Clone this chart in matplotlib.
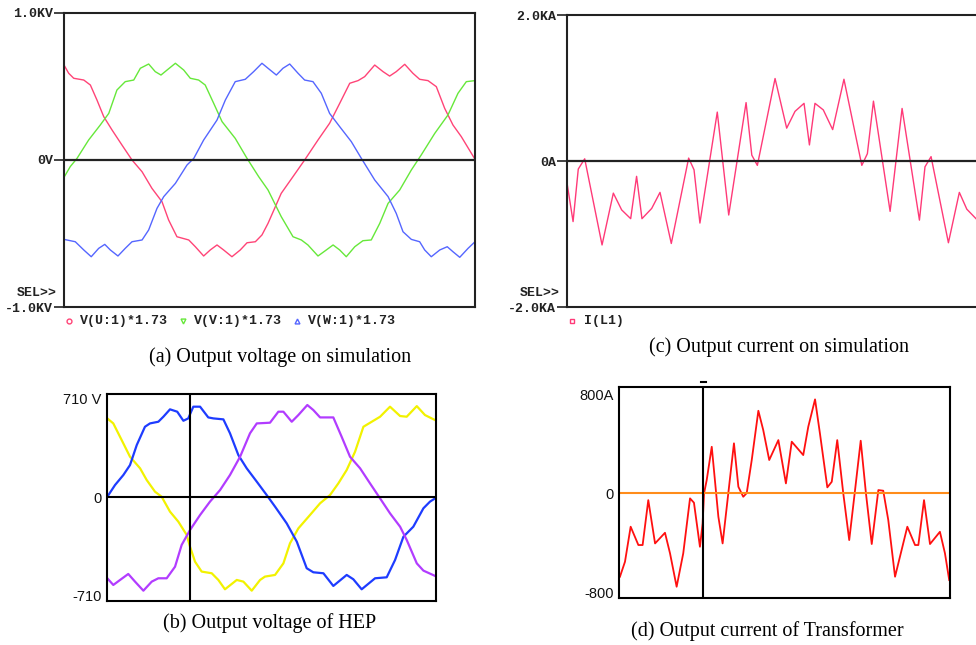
import numpy as np
import matplotlib
matplotlib.use("Agg")
import matplotlib.pyplot as plt
from matplotlib.lines import Line2D

# ------------------------------- DATA ---------------------------------------
# (a) simulated line voltages, time in ms, volts
t_u = [0.0, 0.27, 0.56, 1.14, 1.52, 1.90, 2.29, 2.77, 3.34, 3.92, 4.50, 5.07, 5.65,
       6.03, 6.51, 7.19, 7.57, 8.05, 8.43, 8.82, 9.20, 9.68, 10.16, 10.55, 11.03,
       11.41, 11.76, 12.52, 13.20, 13.87, 14.64, 15.31, 15.89, 16.47, 16.95, 17.33,
       17.91, 18.39, 18.77, 19.15, 19.64, 20.11, 20.50, 20.98, 21.46, 21.94, 22.42,
       22.90, 23.69]
v_u = [646, 590, 556, 544, 510, 408, 295, 204, 102, 0, -80, -193, -284,
       -408, -522, -544, -590, -653, -612, -578, -612, -658, -612, -563, -556,
       -510, -431, -227, -113, 0, 136, 250, 385, 522, 540, 567,
       646, 601, 571, 601, 651, 590, 549, 540, 499, 352, 238,
       159, 5]

t_v = [0.0, 0.36, 0.75, 1.42, 2.09, 2.58, 3.05, 3.53, 4.02, 4.40, 4.88, 5.26, 5.59,
       5.94, 6.42, 6.90, 7.28, 7.76, 8.14, 8.63, 9.11, 9.87, 10.55, 11.22, 11.76,
       12.52, 13.20, 13.68, 14.06, 14.64, 15.12, 15.51, 15.89, 16.27, 16.76, 17.23,
       17.71, 18.20, 18.68, 19.35, 20.02, 20.59, 21.37, 22.13, 22.71, 23.19, 23.69]
v_v = [-118, -45, 11, 136, 238, 317, 476, 533, 544, 624, 653, 601, 578,
       612, 658, 612, 556, 544, 510, 385, 261, 147, 11, -113, -204,
       -385, -522, -544, -578, -653, -612, -578, -612, -658, -590, -549,
       -544, -431, -295, -204, -68, 34, 181, 306, 454, 533, 540]

t_w = [0.0, 0.65, 1.14, 1.57, 2.00, 2.35, 2.67, 3.11, 3.53, 3.92, 4.50, 4.88, 5.36,
       5.75, 6.42, 7.09, 7.48, 8.05, 8.82, 9.30, 9.87, 10.45, 10.93, 11.41, 11.76,
       12.24, 12.62, 13.01, 13.49, 13.87, 14.35, 14.83, 15.31, 15.89, 16.56, 17.14,
       17.91, 18.68, 19.15, 19.54, 20.02, 20.50, 20.79, 21.17, 21.66, 22.09, 22.42,
       22.81, 23.29, 23.69]
v_w = [-540, -556, -612, -658, -601, -574, -612, -653, -601, -556, -544, -476, -329,
       -249, -159, -34, 11, 136, 272, 408, 533, 549, 601, 658, 624,
       578, 624, 653, 590, 544, 533, 454, 317, 227, 125, 11,
       -136, -249, -363, -488, -540, -556, -612, -658, -612, -590, -624,
       -662, -601, -556]

# (c) simulated output current, ms, kA
t_i = [0.02, 0.35, 0.65, 1.02, 2.02, 2.67, 3.15, 3.67, 4.01, 4.32, 4.88, 5.36, 6.01,
       7.01, 7.32, 7.66, 8.66, 9.32, 10.32, 10.65, 10.97, 11.99, 12.66, 13.14, 13.66,
       13.97, 14.29, 14.77, 15.31, 15.96, 16.99, 17.31, 17.66, 18.62, 19.31, 20.31,
       20.63, 20.98, 21.98, 22.61, 23.04, 23.57]
i_l1 = [-0.33, -0.83, -0.11, 0.03, -1.15, -0.44, -0.67, -0.79, -0.21, -0.79, -0.65, -0.43, -1.13,
        0.04, -0.12, -0.85, 0.67, -0.74, 0.80, 0.08, -0.06, 1.13, 0.45, 0.68, 0.79,
        0.22, 0.79, 0.70, 0.43, 1.12, -0.06, 0.10, 0.82, -0.69, 0.72, -0.81,
        -0.08, 0.06, -1.12, -0.43, -0.66, -0.79]

# (b) measured HEP voltages, ms, volts
t_yel = [0.02, 0.40, 0.93, 1.46, 2.10, 2.52, 3.05, 3.47, 4.00, 4.53, 5.06, 5.27, 5.59,
         6.01, 6.65, 7.07, 7.49, 8.24, 8.66, 9.19, 9.72, 10.03, 10.67, 11.20, 11.62,
         12.15, 12.89, 13.53, 14.16, 14.69, 15.22, 15.75, 16.28, 16.81, 17.34, 17.97,
         18.61, 19.03, 19.67, 20.19, 20.83]
v_yel = [564, 528, 409, 289, 206, 122, 38, 2, -105, -177, -272, -356, -464,
         -535, -547, -595, -662, -595, -607, -672, -595, -571, -559, -476, -332,
         -225, -129, -45, 14, 98, 194, 325, 504, 540, 576, 648,
         581, 576, 652, 588, 552]

t_blu = [0.02, 0.51, 1.04, 1.46, 1.89, 2.41, 2.73, 3.26, 3.58, 4.00, 4.46, 4.85, 5.16,
         5.48, 5.91, 6.43, 6.75, 7.39, 7.81, 8.34, 8.87, 9.51, 10.14, 10.67, 11.41,
         12.05, 12.68, 13.10, 13.74, 14.37, 15.22, 15.64, 16.17, 17.02, 17.76, 18.29,
         18.82, 19.45, 20.09, 20.51, 20.83]
v_blu = [2, 86, 158, 229, 373, 504, 528, 540, 576, 629, 612, 547, 564,
         648, 648, 571, 564, 557, 457, 301, 206, 110, 14, -69, -189,
         -320, -511, -540, -547, -638, -559, -590, -662, -583, -576, -452,
         -285, -213, -81, -33, -10]

t_pur = [0.02, 0.40, 0.83, 1.35, 1.78, 2.31, 2.84, 3.26, 3.79, 4.32, 4.74, 5.27, 5.91,
         6.54, 7.18, 7.81, 8.45, 9.08, 9.51, 10.35, 10.88, 11.20, 11.73, 12.15, 12.72,
         13.10, 13.53, 14.37, 14.90, 15.43, 16.07, 16.70, 17.34, 17.97, 18.61, 19.03,
         19.67, 20.09, 20.83]
v_pur = [-583, -631, -595, -552, -607, -672, -607, -583, -583, -500, -344, -237, -129,
         -33, 50, 158, 289, 457, 528, 533, 612, 612, 540, 588, 660,
         624, 571, 571, 432, 289, 206, 98, -10, -117, -213, -308,
         -476, -528, -566]

# (d) measured transformer current, ms, A
t_tr = [0.06, 0.38, 0.74, 1.23, 1.50, 1.86, 2.29, 2.92, 3.24, 3.66, 4.08, 4.51, 4.76,
        5.14, 5.31, 5.40, 5.57, 5.89, 6.31, 6.58, 6.94, 7.30, 7.58, 7.89, 8.11,
        8.43, 8.85, 9.16, 9.54, 10.12, 10.60, 10.97, 11.70, 12.02, 12.45, 12.76,
        13.23, 13.51, 13.86, 14.24, 14.62, 14.99, 15.35, 15.68, 16.05, 16.47, 16.78,
        17.10, 17.53, 18.31, 18.80, 19.01, 19.37, 19.75, 20.38, 20.70, 20.97]
i_tr = [-676, -555, -272, -420, -420, -57, -407, -321, -487, -757, -487, -43, -78,
        -434, -245, -3, 105, 374, -191, -407, -3, 402, 51, -30, 0,
        267, 665, 509, 267, 428, 78, 415, 307, 536, 757, 482,
        46, 91, 428, 0, -380, 24, 423, 0, -412, 24, 19,
        -218, -676, -272, -420, -420, -57, -412, -313, -487, -703]

cursor_b = 5.27
cursor_d = 5.33

# ------------------------------- LAYOUT -------------------------------------
W, H = 976, 645


def box(left, top, right, bottom):
    return [left / W, 1 - bottom / H, (right - left) / W, (bottom - top) / H]


def fxy(x, y):
    return x / W, 1 - y / H


mono = dict(family="Liberation Mono", weight="bold", size=9.5, color="#222222")
sans = dict(family="Liberation Sans", size=10.5, color="#111111")
serif = dict(family="Liberation Serif", size=14.5, color="black")

fig = plt.figure(figsize=(W / 100, H / 100), dpi=100)

# --- (a) Output voltage on simulation ---
ax_a = fig.add_axes(box(64, 13, 475, 307))
ax_a.plot(t_u, v_u, color="#FF4477", lw=1.0)
ax_a.plot(t_v, v_v, color="#66E83A", lw=1.0)
ax_a.plot(t_w, v_w, color="#5566FF", lw=1.0)
ax_a.axhline(0, color="#222222", lw=1.6)
ax_a.set_xlim(0, 23.69)
ax_a.set_ylim(-1000, 1000)
ax_a.set_xticks([])
ax_a.set_yticks([-1000, 0, 1000])
ax_a.set_yticklabels(["-1.0KV", "0V", "1.0KV"], fontdict=mono)
ax_a.tick_params(axis="y", direction="out", length=7, width=1.2, pad=1, color="#222222")
for s in ax_a.spines.values():
    s.set_color("#222222")
    s.set_linewidth(1.5)
fig.text(*fxy(57, 293), "SEL>>", ha="right", va="center", **mono)

leg_a = [("o", "#FF4477", "V(U:1)*1.73", 69),
         ("v", "#66E83A", "V(V:1)*1.73", 183),
         ("^", "#5566FF", "V(W:1)*1.73", 297)]
for mk, col, lab, x0 in leg_a:
    fig.add_artist(Line2D([x0 / W], [1 - 321 / H], marker=mk, ms=3.5, mfc="none",
                          mec=col, mew=1.0, ls="none", transform=fig.transFigure))
    fig.text(*fxy(x0 + 11, 321), lab, ha="left", va="center", **mono)

# --- (c) Output current on simulation ---
ax_c = fig.add_axes(box(567, 15, 976, 307))
ax_c.plot(t_i, i_l1, color="#FF3A78", lw=1.0)
ax_c.axhline(0, color="#222222", lw=1.6)
ax_c.set_xlim(0, 23.57)
ax_c.set_ylim(-2, 2)
ax_c.set_xticks([])
ax_c.set_yticks([-2, 0, 2])
ax_c.set_yticklabels(["-2.0KA", "0A", "2.0KA"], fontdict=mono)
ax_c.tick_params(axis="y", direction="out", length=7, width=1.2, pad=1, color="#222222")
ax_c.spines["right"].set_visible(False)
for s in ("left", "top", "bottom"):
    ax_c.spines[s].set_color("#222222")
    ax_c.spines[s].set_linewidth(1.5)
fig.text(*fxy(560, 293), "SEL>>", ha="right", va="center", **mono)
fig.add_artist(Line2D([572 / W], [1 - 321 / H], marker="s", ms=3.5, mfc="none",
                      mec="#FF3A78", mew=1.0, ls="none", transform=fig.transFigure))
fig.text(*fxy(584, 321), "I(L1)", ha="left", va="center", **mono)

# --- (b) Output voltage of HEP ---
ax_b = fig.add_axes(box(107, 394, 436, 601))
ax_b.plot(t_yel, v_yel, color="#F2F200", lw=1.6)
ax_b.plot(t_blu, v_blu, color="#1E3CFF", lw=1.6)
ax_b.plot(t_pur, v_pur, color="#B23CFF", lw=1.6)
ax_b.axhline(0, color="black", lw=1.5)
ax_b.axvline(cursor_b, color="black", lw=1.5)
ax_b.set_xlim(0, 20.89)
ax_b.set_ylim(-746, 739)
ax_b.set_xticks([])
ax_b.set_yticks([-710, 0, 710])
ax_b.set_yticklabels(["-710", "0", "710 V"], fontdict=sans)
ax_b.tick_params(axis="y", length=0, pad=4)
for s in ax_b.spines.values():
    s.set_color("black")
    s.set_linewidth(1.5)

# --- (d) Output current of Transformer ---
ax_d = fig.add_axes(box(619, 387, 950, 598))
ax_d.plot(t_tr, i_tr, color="#FF1010", lw=1.3)
ax_d.axhline(0, color="#FF8C1A", lw=1.5)
ax_d.axvline(cursor_d, color="black", lw=1.5)
ax_d.set_xlim(0, 21.02)
ax_d.set_ylim(-848, 857)
ax_d.set_xticks([])
ax_d.set_yticks([-800, 0, 800])
ax_d.set_yticklabels(["-800", "0", "800A"], fontdict=sans)
ax_d.tick_params(axis="y", length=0, pad=4)
for s in ax_d.spines.values():
    s.set_color("black")
    s.set_linewidth(1.5)
fig.add_artist(Line2D([701 / W, 706 / W], [1 - 382 / H, 1 - 382 / H], color="black",
                      lw=1.5, transform=fig.transFigure))

# --- captions ---
fig.text(*fxy(280, 357), "(a) Output voltage on simulation", ha="center", va="center", **serif)
fig.text(*fxy(779, 347), "(c) Output current on simulation", ha="center", va="center", **serif)
fig.text(*fxy(270, 623), "(b) Output voltage of HEP", ha="center", va="center", **serif)
fig.text(*fxy(767, 631), "(d) Output current of Transformer", ha="center", va="center", **serif)

fig.savefig("out.png", dpi=100, facecolor="white")
plt.close(fig)
